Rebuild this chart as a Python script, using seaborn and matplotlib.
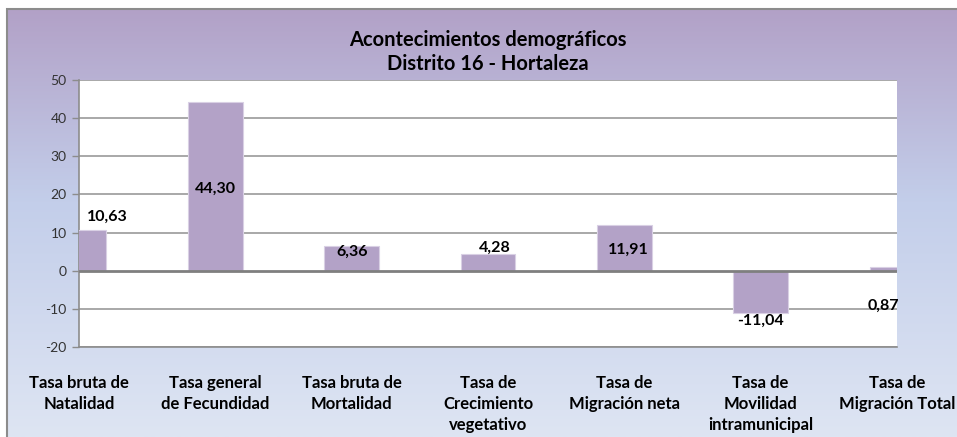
import numpy as np
import pandas as pd
import matplotlib
matplotlib.use("Agg")
import matplotlib.pyplot as plt
from matplotlib.colors import LinearSegmentedColormap
from matplotlib.patches import Rectangle
import seaborn as sns

# ---- data ----
categories = [
    "Tasa bruta de\nNatalidad",
    "Tasa general\nde Fecundidad",
    "Tasa bruta de\nMortalidad",
    "Tasa de\nCrecimiento\nvegetativo",
    "Tasa de\nMigración neta",
    "Tasa de\nMovilidad\nintramunicipal",
    "Tasa de\nMigración Total",
]
values = [10.63, 44.30, 6.36, 4.28, 11.91, -11.04, 0.87]
value_labels = ["10,63", "44,30", "6,36", "4,28", "11,91", "-11,04", "0,87"]
y_ticks = [-20, -10, 0, 10, 20, 30, 40, 50]
title = "Acontecimientos demográficos\nDistrito 16 - Hortaleza"

# label placement style: (x offset in category units, mode, y offset)
label_style = [
    (0.21, "end", 3.5),
    (0.0, "center", -0.8),
    (0.0, "end", -1.5),
    (0.05, "end", 1.6),
    (0.03, "center", -0.5),
    (0.0, "end", -2.0),
    (-0.10, "end", -10.1),
]

sns.set_theme(style="white")
plt.rcParams["font.family"] = ["Lato", "DejaVu Sans"]

W, H, DPI = 957, 437, 100
fig = plt.figure(figsize=(W / DPI, H / DPI), dpi=DPI)
fig.patch.set_facecolor("white")

# gradient background
bg = fig.add_axes([7 / W, 0, 1 - 7 / W, 1 - 9 / H], zorder=0)
cmap = LinearSegmentedColormap.from_list(
    "bg", [(0.0, "#B2A1C7"), (0.45, "#C3CEEA"), (1.0, "#DEE5F3")]
)
grad = np.linspace(0, 1, 256).reshape(-1, 1)
bg.imshow(grad, aspect="auto", cmap=cmap, extent=[0, 1, 0, 1], origin="upper")
bg.set_xlim(0, 1)
bg.set_ylim(0, 1)
bg.axis("off")
fig.patches.append(Rectangle((7 / W, -0.1), 1.2, 1 - 9 / H + 0.1,
                             transform=fig.transFigure, fill=False,
                             edgecolor="#8C8C8C", linewidth=1.5, zorder=1))

ax = fig.add_axes([79 / W, 1 - 347 / H, (897 - 79) / W, (347 - 80) / H], zorder=2)
ax.set_facecolor("white")

df = pd.DataFrame({"cat": categories, "val": values})
sns.barplot(data=df, x="cat", y="val", order=categories, color="#B3A2C7",
            saturation=1, width=0.4, edgecolor="#D9D0E4", linewidth=0.8,
            ax=ax, zorder=3)

ax.set_xlim(0, len(categories) - 1)
ax.set_ylim(min(y_ticks), max(y_ticks))
ax.set_yticks(y_ticks)
ax.set_yticklabels([str(t) for t in y_ticks], fontsize=10, color="#333333")
ax.set_xlabel("")
ax.set_ylabel("")

for t in y_ticks:
    if t == 0:
        ax.axhline(t, color="#7F7F7F", linewidth=2.0, zorder=4)
    else:
        ax.axhline(t, color="#9A9A9A", linewidth=1.2, zorder=1)

for s in ["top", "right"]:
    ax.spines[s].set_visible(False)
ax.spines["left"].set_color("#8C8C8C")
ax.spines["left"].set_linewidth(1.2)
ax.spines["bottom"].set_color("#8C8C8C")
ax.spines["bottom"].set_linewidth(1.2)

ax.tick_params(axis="y", which="both", left=True, length=5, width=1,
               color="#8C8C8C", pad=4)
ax.tick_params(axis="x", which="both", bottom=False, length=0, pad=20)
for lbl in ax.get_xticklabels():
    lbl.set_fontsize(12)
    lbl.set_fontweight("bold")
    lbl.set_color("black")
    lbl.set_linespacing(1.4)
    lbl.set_verticalalignment("top")
    lbl.set_multialignment("center")
    lbl.set_clip_on(False)

for i, (v, txt) in enumerate(zip(values, value_labels)):
    dx, mode, dy = label_style[i]
    y = v / 2 + dy if mode == "center" else v + dy
    ax.text(i + dx, y, txt, ha="center", va="center", fontsize=11.5,
            fontweight="bold", color="black", zorder=6, clip_on=False)

fig.text(488 / W, 1 - 52 / H, title, ha="center", va="center", fontsize=14.5,
         fontweight="bold", color="black", linespacing=1.2, zorder=5)

fig.savefig("out.png", dpi=DPI)
